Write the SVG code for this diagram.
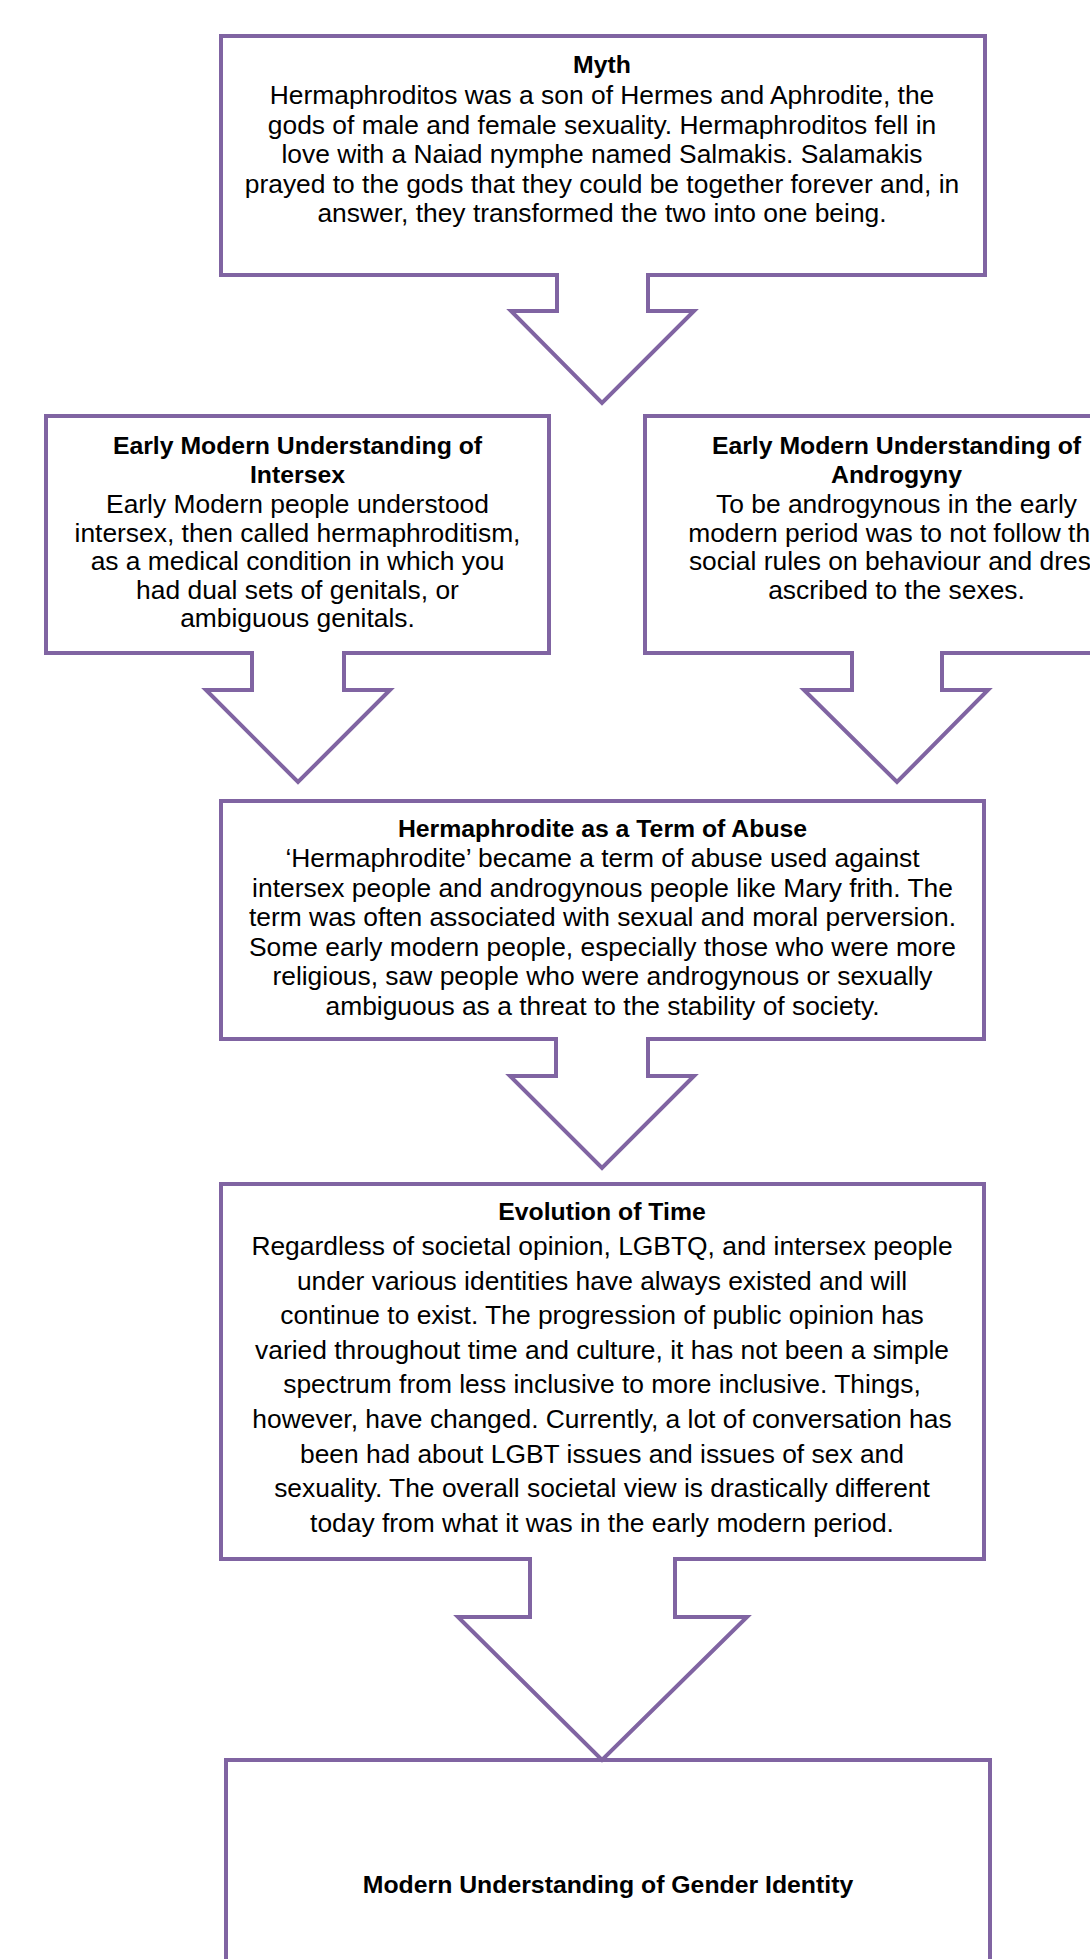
<svg xmlns="http://www.w3.org/2000/svg" width="1090" height="1959" viewBox="0 0 1090 1959">
<style>
.box{fill:#fff;stroke:#8064A2;stroke-width:4;stroke-linejoin:miter}
.arr{fill:#fff;stroke:#8064A2;stroke-width:4;stroke-linejoin:miter;stroke-linecap:butt}
text{font-family:"Liberation Sans",Arial,sans-serif;fill:#000;text-anchor:middle}
.t{font-weight:bold;font-size:24.8px}
.b{font-size:26.4px}
</style>
<rect width="1090" height="1959" fill="#fff"/>
<g id="myth">
<rect class="box" x="221" y="36" width="764" height="239"/>
<text class="t" x="602" y="73">Myth</text>
<text class="b" x="602" y="104">Hermaphroditos was a son of Hermes and Aphrodite, the</text>
<text class="b" x="602" y="133.6">gods of male and female sexuality. Hermaphroditos fell in</text>
<text class="b" x="602" y="163.2">love with a Naiad nymphe named Salmakis. Salamakis</text>
<text class="b" x="602" y="192.8">prayed to the gods that they could be together forever and, in</text>
<text class="b" x="602" y="222.4">answer, they transformed the two into one being.</text>
</g>
<g id="intersex">
<rect class="box" x="46" y="416" width="503" height="237"/>
<text class="t" x="297.5" y="454">Early Modern Understanding of</text>
<text class="t" x="297.5" y="483">Intersex</text>
<text class="b" x="297.5" y="513">Early Modern people understood</text>
<text class="b" x="297.5" y="541.5">intersex, then called hermaphroditism,</text>
<text class="b" x="297.5" y="570">as a medical condition in which you</text>
<text class="b" x="297.5" y="598.5">had dual sets of genitals, or</text>
<text class="b" x="297.5" y="627">ambiguous genitals.</text>
</g>
<g id="androgyny">
<rect class="box" x="645" y="416" width="503" height="237"/>
<text class="t" x="896.5" y="454">Early Modern Understanding of</text>
<text class="t" x="896.5" y="483">Androgyny</text>
<text class="b" x="896.5" y="513">To be androgynous in the early</text>
<text class="b" x="896.5" y="541.5">modern period was to not follow the</text>
<text class="b" x="896.5" y="570">social rules on behaviour and dress</text>
<text class="b" x="896.5" y="598.5">ascribed to the sexes.</text>
</g>
<g id="abuse">
<rect class="box" x="221" y="801" width="763" height="238"/>
<text class="t" x="602.5" y="837">Hermaphrodite as a Term of Abuse</text>
<text class="b" x="602.5" y="867">‘Hermaphrodite’ became a term of abuse used against</text>
<text class="b" x="602.5" y="896.6">intersex people and androgynous people like Mary frith. The</text>
<text class="b" x="602.5" y="926.2">term was often associated with sexual and moral perversion.</text>
<text class="b" x="602.5" y="955.8">Some early modern people, especially those who were more</text>
<text class="b" x="602.5" y="985.4">religious, saw people who were androgynous or sexually</text>
<text class="b" x="602.5" y="1015">ambiguous as a threat to the stability of society.</text>
</g>
<g id="evolution">
<rect class="box" x="221" y="1184" width="763" height="375"/>
<text class="t" x="602" y="1220">Evolution of Time</text>
<text class="b" x="602" y="1255">Regardless of societal opinion, LGBTQ, and intersex people</text>
<text class="b" x="602" y="1289.6">under various identities have always existed and will</text>
<text class="b" x="602" y="1324.2">continue to exist. The progression of public opinion has</text>
<text class="b" x="602" y="1358.8">varied throughout time and culture, it has not been a simple</text>
<text class="b" x="602" y="1393.4">spectrum from less inclusive to more inclusive. Things,</text>
<text class="b" x="602" y="1428">however, have changed. Currently, a lot of conversation has</text>
<text class="b" x="602" y="1462.6">been had about LGBT issues and issues of sex and</text>
<text class="b" x="602" y="1497.2">sexuality. The overall societal view is drastically different</text>
<text class="b" x="602" y="1531.8">today from what it was in the early modern period.</text>
</g>
<g id="modern">
<rect class="box" x="226" y="1760" width="764" height="230"/>
<text class="t" x="608" y="1892.5">Modern Understanding of Gender Identity</text>
</g>
<g id="connectors">
<path class="arr" d="M557,273 V311 H511 L602,403 L694,311 H648 V273"/>
<path class="arr" d="M252,651 V690 H206 L298,782 L390,690 H344 V651"/>
<path class="arr" d="M852,651 V690 H804 L897,782 L988,690 H942 V651"/>
<path class="arr" d="M556,1037 V1076 H510 L602,1168 L694,1076 H648 V1037"/>
<path class="arr" d="M530,1557 V1617 H458 L602,1760 L747,1617 H675 V1557"/>
</g>
</svg>
